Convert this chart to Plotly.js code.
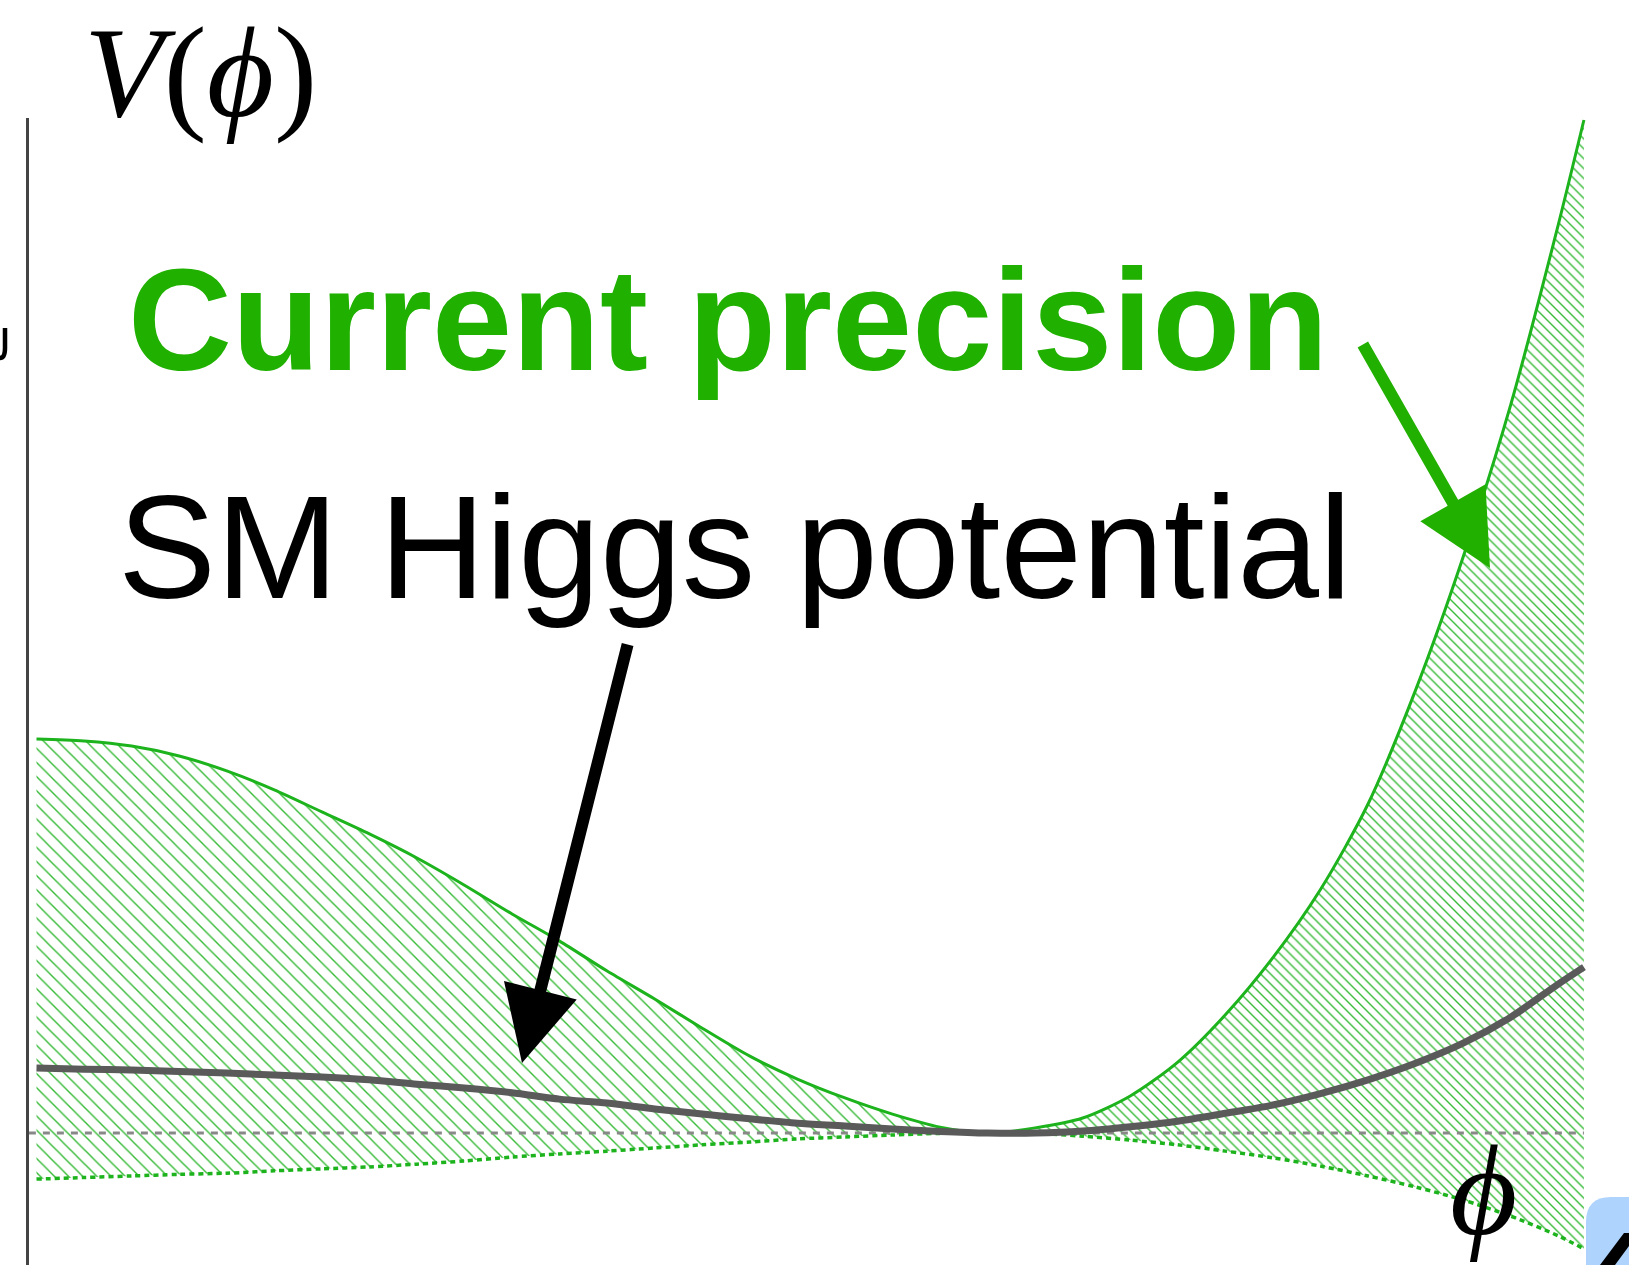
<!DOCTYPE html>
<html><head><meta charset="utf-8">
<script src="https://cdn.plot.ly/plotly-3.0.1.min.js"></script>
<style>html,body{margin:0;padding:0;background:#fff;overflow:hidden}#chart{width:1629px;height:1265px}</style>
</head><body><div id="chart"></div>
<script>
// field value (arbitrary units, minimum of the potential at phi = 0)
const phi = [-1.0,-0.95,-0.9,-0.85,-0.8,-0.75,-0.7,-0.65,-0.6,-0.55,-0.5,-0.45,-0.4,-0.35,-0.3,-0.25,-0.2,-0.15,-0.1,-0.05,0,0.05,0.1,0.15,0.2,0.25,0.3,0.35,0.4,0.45,0.5,0.55,0.6,0.627];
// upper edge of the "current precision" band
const vUpper = [1.000,0.995,0.982,0.957,0.919,0.871,0.815,0.759,0.698,0.629,0.556,0.487,0.411,0.340,0.266,0.195,0.137,0.089,0.048,0.015,0,0.013,0.038,0.094,0.180,0.300,0.445,0.618,0.835,1.124,1.462,1.848,2.305,2.571];
// SM Higgs potential
const vSM = [0.165,0.162,0.160,0.156,0.152,0.147,0.142,0.135,0.124,0.114,0.102,0.086,0.076,0.061,0.048,0.036,0.025,0.018,0.010,0.004,0,0.000,0.005,0.016,0.030,0.050,0.071,0.100,0.135,0.177,0.228,0.294,0.378,0.421];
// lower edge of the band
const vLower = [-0.117,-0.113,-0.109,-0.105,-0.102,-0.096,-0.091,-0.086,-0.079,-0.071,-0.061,-0.053,-0.046,-0.038,-0.030,-0.023,-0.015,-0.010,-0.005,-0.001,0,-0.001,-0.008,-0.018,-0.030,-0.046,-0.063,-0.084,-0.109,-0.137,-0.170,-0.211,-0.261,-0.294];
// reference level V = 0
const zeroPhi = [-1.008, 0.627];
const zeroV = [0, 0];

const labelV = '<i>V</i>(<i>\u03D5</i>)';
const labelPhi = '<i>\u03D5</i>';
const labelCurrent = 'Current precision';
const labelSM = 'SM Higgs potential';

const W = 1629, H = 1265;
const px = (x) => x / W;
const py = (y) => 1 - y / H;

const split = phi.indexOf(0);
function band(i0, i1) {
  const xs = phi.slice(i0, i1 + 1);
  const up = vUpper.slice(i0, i1 + 1);
  const lo = vLower.slice(i0, i1 + 1);
  return { x: xs.concat(xs.slice().reverse()), y: up.concat(lo.slice().reverse()) };
}
const bandL = band(0, split);
const bandR = band(split, phi.length - 1);

const green = '#1db31d';
const hatch = '#36ba36';

const traces = [
  { x: bandL.x, y: bandL.y, mode: 'lines', fill: 'toself', line: { width: 0, color: 'rgba(0,0,0,0)' },
    fillpattern: { shape: '\\', fgcolor: hatch, bgcolor: 'rgba(0,0,0,0)', size: 10, solidity: 0.14 }, hoverinfo: 'skip' },
  { x: bandR.x, y: bandR.y, mode: 'lines', fill: 'toself', line: { width: 0, color: 'rgba(0,0,0,0)' },
    fillpattern: { shape: '\\', fgcolor: hatch, bgcolor: 'rgba(0,0,0,0)', size: 7, solidity: 0.2 }, hoverinfo: 'skip' },
  { x: zeroPhi, y: zeroV, mode: 'lines', line: { color: '#888888', width: 3, dash: '7px,7px' } },
  { x: phi, y: vLower, mode: 'lines', line: { color: green, width: 3.5, dash: '5px,4px', shape: 'spline', smoothing: 0.8 } },
  { x: phi, y: vUpper, mode: 'lines', line: { color: green, width: 3, shape: 'spline', smoothing: 0.8 } },
  { x: phi, y: vSM, mode: 'lines', line: { color: '#5a5a5a', width: 7, shape: 'spline', smoothing: 0.8 } }
];

const serif = 'Liberation Serif, DejaVu Serif, serif';
const sans = 'Liberation Sans, Arial, sans-serif';

const layout = {
  width: W, height: H,
  margin: { l: 0, r: 0, t: 0, b: 0 },
  paper_bgcolor: '#fff', plot_bgcolor: 'rgba(0,0,0,0)',
  showlegend: false,
  xaxis: { domain: [28.5 / W, 1], range: [-1.0084, 0.6744], showgrid: false, zeroline: false, showline: false, showticklabels: false, ticks: '' },
  yaxis: { domain: [0, (H - 118) / H], range: [-0.3350, 2.5761], showgrid: false, zeroline: false,
           showline: true, linecolor: '#444', linewidth: 3, showticklabels: false, ticks: '' },
  annotations: [
    { xref: 'paper', yref: 'paper', x: px(82), y: py(72), xanchor: 'left', yanchor: 'middle', showarrow: false,
      text: labelV, font: { family: serif, size: 130, color: '#000' } },
    { xref: 'paper', yref: 'paper', x: px(126), y: py(320), xanchor: 'left', yanchor: 'middle', showarrow: false,
      text: labelCurrent, font: { family: sans, size: 144, color: '#20b000', weight: 700 } },
    { xref: 'paper', yref: 'paper', x: px(116), y: py(547), xanchor: 'left', yanchor: 'middle', showarrow: false,
      text: labelSM, font: { family: sans, size: 147, color: '#000' } },
    { xref: 'paper', yref: 'paper', x: px(1483), y: py(1190), xanchor: 'center', yanchor: 'middle', showarrow: false,
      text: labelPhi, font: { family: serif, size: 130, color: '#000' } },
    { xref: 'paper', yref: 'paper', x: px(522), y: py(1063), text: '', showarrow: true, ax: 106, ay: -420,
      arrowcolor: '#000', arrowwidth: 12, arrowhead: 2, arrowsize: 1.25, standoff: 0 },
    { xref: 'paper', yref: 'paper', x: px(1490), y: py(568), text: '', showarrow: true, ax: -128, ay: -225,
      arrowcolor: '#22b000', arrowwidth: 12, arrowhead: 2, arrowsize: 1.25, standoff: 0 }
  ],
  shapes: [
    { type: 'path', xref: 'paper', yref: 'paper', layer: 'above',
      path: `M ${px(1586)},0 L ${px(1586)},${py(1222)} Q ${px(1586)},${py(1197)} ${px(1611)},${py(1197)} L 1,${py(1197)} L 1,0 Z`,
      fillcolor: '#aed3fd', line: { width: 0 } },
    { type: 'path', xref: 'paper', yref: 'paper', layer: 'above',
      path: `M ${px(1600)},0 L ${px(1624)},${py(1233)} L 1,${py(1233)} L 1,${py(1246)} L ${px(1615)},0 Z`,
      fillcolor: '#000', line: { width: 0 } },
    { type: 'path', xref: 'paper', yref: 'paper', layer: 'above',
      path: `M ${px(5)},${py(328)} L ${px(5)},${py(348)} Q ${px(5)},${py(358)} 0,${py(358)}`,
      line: { color: '#000', width: 4.5 } }
  ]
};

Plotly.newPlot('chart', traces, layout, { staticPlot: true, displayModeBar: false });
</script>
</body></html>
